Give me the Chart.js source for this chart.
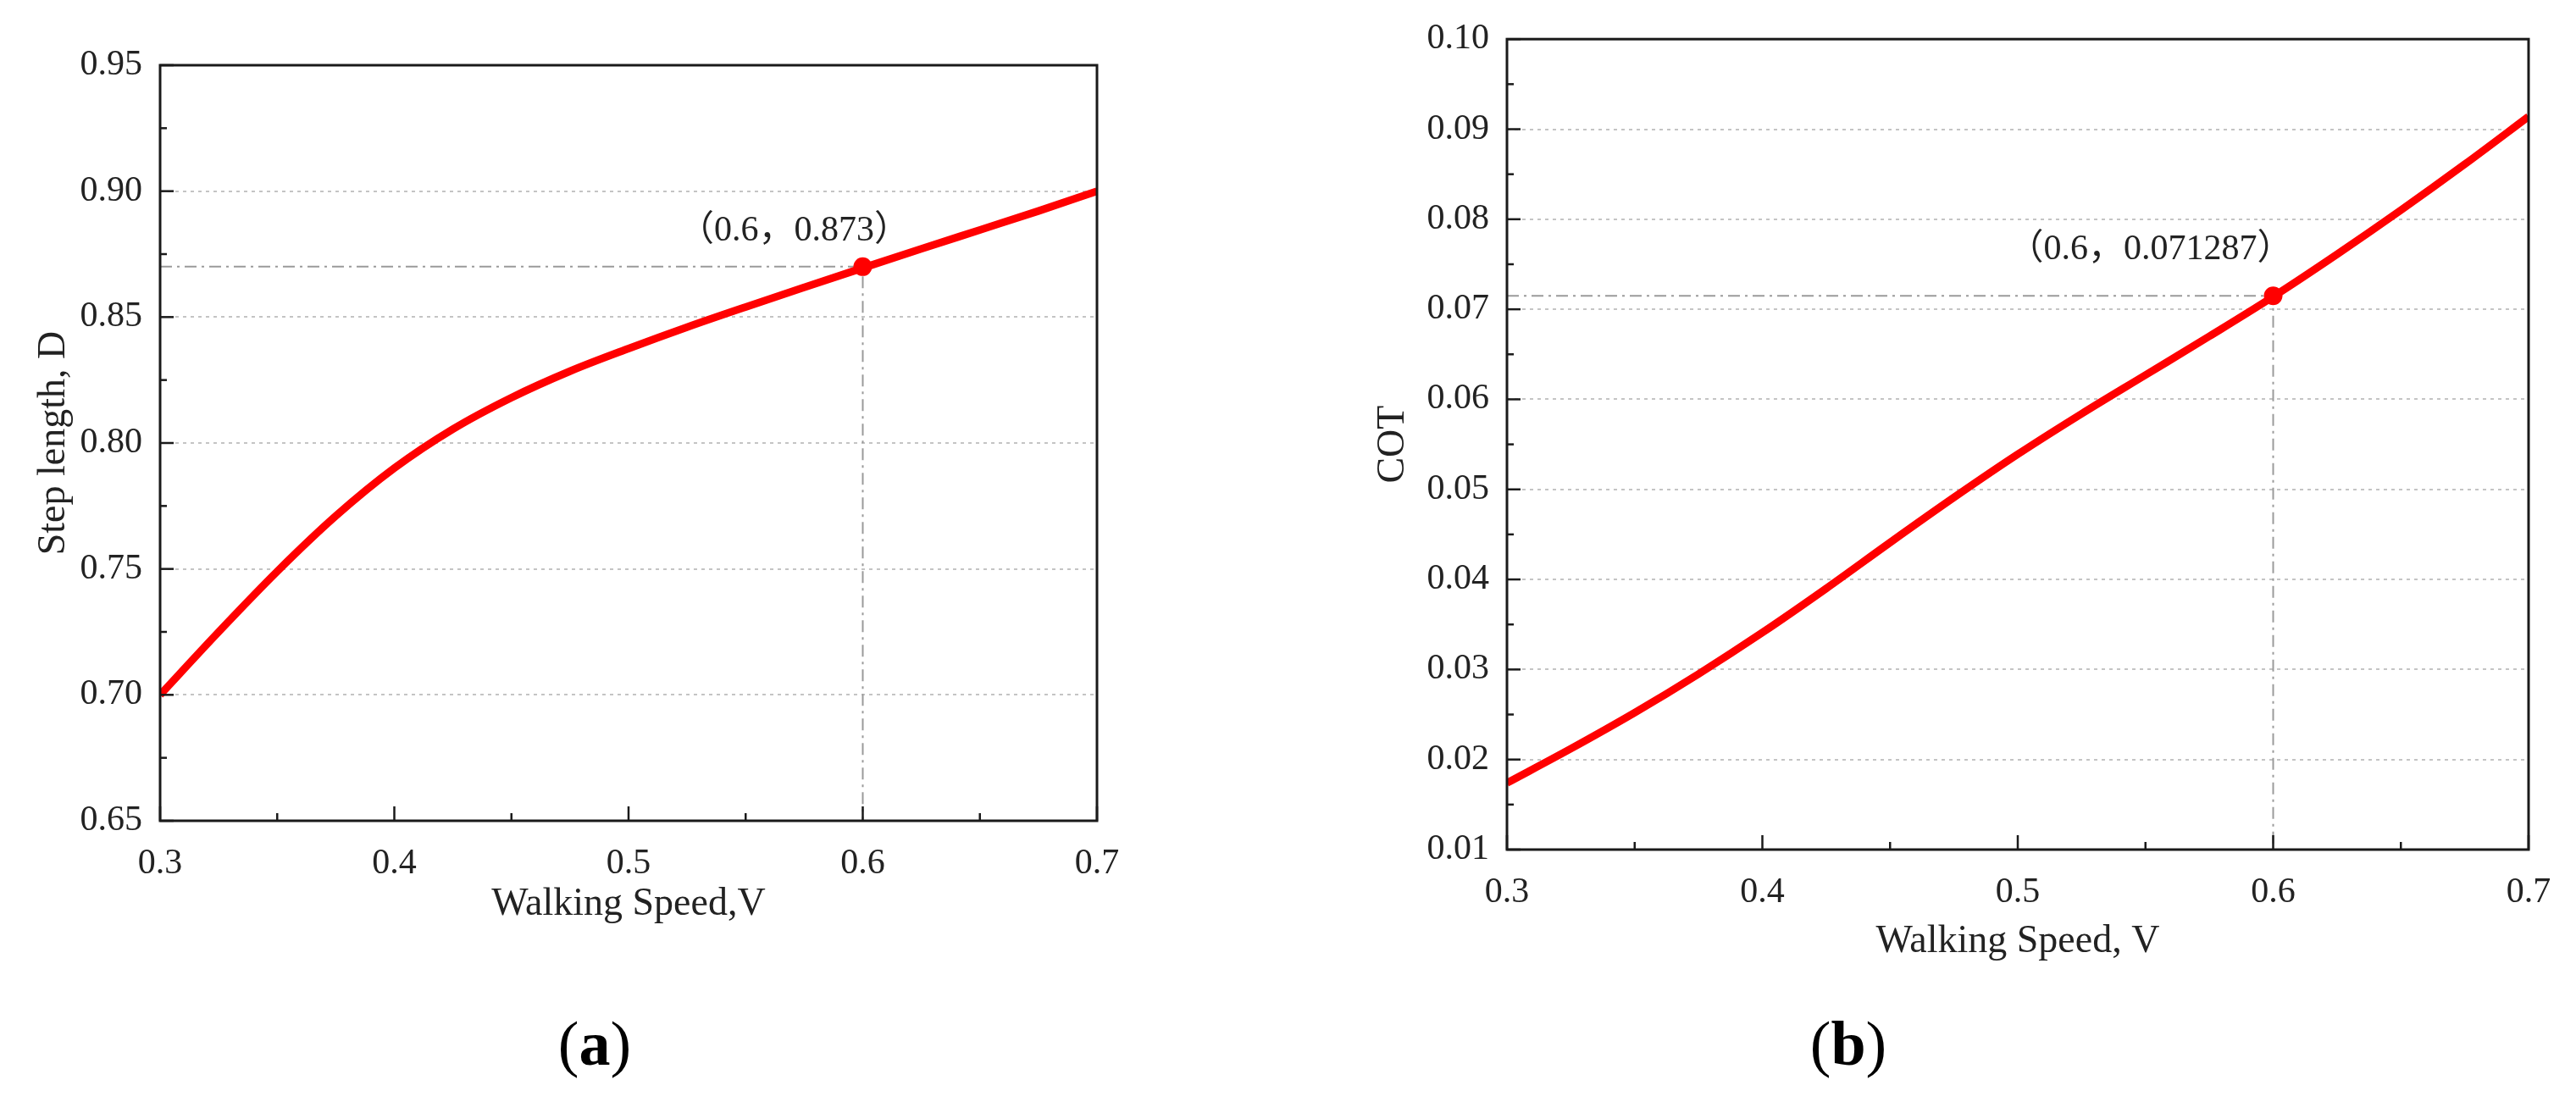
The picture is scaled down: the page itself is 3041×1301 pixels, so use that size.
<!DOCTYPE html>
<html>
<head>
<meta charset="utf-8">
<script src="https://cdn.jsdelivr.net/npm/chart.js@4.4.0/dist/chart.umd.min.js"></script>
<style>
  body { margin: 0; background: #fff; width: 3041px; height: 1301px; overflow: hidden; position: relative; }
  canvas { position: absolute; top: 0; }
  #chartA { left: 0; }
  #chartB { left: 1540px; }
  .cap { position: absolute; top: 1190px; width: 200px; text-align: center; font: 74px "Liberation Serif", serif; color: #000; }
  .cap b { font-weight: bold; }
</style>
</head>
<body>
<canvas id="chartA" width="1400" height="1160"></canvas>
<canvas id="chartB" width="1501" height="1160"></canvas>
<div class="cap" style="left:602px">(<b>a</b>)</div>
<div class="cap" style="left:2082px">(<b>b</b>)</div>

<script>
// --- DATA ---
const speed = [0.3, 0.325, 0.35, 0.375, 0.4, 0.425, 0.45, 0.475, 0.5, 0.525, 0.55, 0.575, 0.6, 0.625, 0.65, 0.675, 0.7];
const stepLength = [0.700, 0.725, 0.749, 0.771, 0.790, 0.8055, 0.818, 0.8285, 0.8375, 0.846, 0.854, 0.8618, 0.8695, 0.8771, 0.8846, 0.8921, 0.900];
const cot = [0.0174, 0.0212, 0.0252, 0.0295, 0.0341, 0.0390, 0.0441, 0.0491, 0.0539, 0.0584, 0.0627, 0.0670, 0.0714, 0.0761, 0.0810, 0.0861, 0.0914];

const markA = [0.6, 0.870];
const markB = [0.6, 0.0715];
const labelA = '（0.6，0.873）';
const labelB = '（0.6，0.071287）';

const xTicks = [0.3, 0.4, 0.5, 0.6, 0.7];
const yTicksA = [0.65, 0.70, 0.75, 0.80, 0.85, 0.90, 0.95];
const yTicksB = [0.01, 0.02, 0.03, 0.04, 0.05, 0.06, 0.07, 0.08, 0.09, 0.10];

const FONT = '"Liberation Serif", "Noto Sans CJK SC", serif';

// --- CADRE, TICKS VERS L'INTERIEUR, LABELS ---
const frameTicks = {
    id: 'frameTicks',
    afterDraw(chart, args, o) {
        const { ctx, chartArea: a, scales: { x, y } } = chart;
        ctx.save();
        ctx.strokeStyle = '#1a1a1a';
        ctx.lineWidth = 2.5;

        // ticks Y (majeurs + mineurs)
        const yv = y.ticks.map(t => t.value);
        yv.forEach((v, i) => {
            const py = y.getPixelForValue(v);
            ctx.beginPath(); ctx.moveTo(a.left, py); ctx.lineTo(a.left + 16, py); ctx.stroke();
            if (i < yv.length - 1) {
                const pm = y.getPixelForValue((v + yv[i + 1]) / 2);
                ctx.beginPath(); ctx.moveTo(a.left, pm); ctx.lineTo(a.left + 8, pm); ctx.stroke();
            }
        });
        // ticks X
        const xv = x.ticks.map(t => t.value);
        xv.forEach((v, i) => {
            const px = x.getPixelForValue(v);
            ctx.beginPath(); ctx.moveTo(px, a.bottom); ctx.lineTo(px, a.bottom - 17); ctx.stroke();
            if (i < xv.length - 1) {
                const pm = x.getPixelForValue((v + xv[i + 1]) / 2);
                ctx.beginPath(); ctx.moveTo(pm, a.bottom); ctx.lineTo(pm, a.bottom - 9); ctx.stroke();
            }
        });

        // cadre
        ctx.lineWidth = 3;
        ctx.strokeRect(a.left, a.top, a.right - a.left, a.bottom - a.top);

        // label du point
        ctx.fillStyle = '#222';
        ctx.font = '42px ' + FONT;
        ctx.textAlign = 'center';
        ctx.textBaseline = 'middle';
        ctx.fillText(o.label, x.getPixelForValue(o.mark[0]) + o.dx, y.getPixelForValue(o.mark[1]) + o.dy);

        // titre axe Y (centré sur la zone du graphe)
        ctx.font = '46px ' + FONT;
        ctx.translate(o.yTitleX, (a.top + a.bottom) / 2);
        ctx.rotate(-Math.PI / 2);
        ctx.fillText(o.yTitle, 0, 0);
        ctx.restore();
    }
};

function makeChart(id, values, mark, label, yTicks, opt) {
    const yMin = yTicks[0], yMax = yTicks[yTicks.length - 1];
    const step = +(yTicks[1] - yTicks[0]).toFixed(4);
    return new Chart(document.getElementById(id), {
        type: 'line',
        data: {
            datasets: [
                {
                    // lignes de repère (tiret-point)
                    data: [{ x: speed[0], y: mark[1] }, { x: mark[0], y: mark[1] }, { x: mark[0], y: yMin }],
                    borderColor: '#9a9a9a', borderWidth: 2, borderDash: [14, 6, 3, 6],
                    pointRadius: 0, tension: 0, order: 3
                },
                {
                    data: speed.map((s, i) => ({ x: s, y: values[i] })),
                    borderColor: '#ff0000', borderWidth: 9, pointRadius: 0,
                    cubicInterpolationMode: 'monotone', order: 2
                },
                {
                    data: [{ x: mark[0], y: mark[1] }],
                    showLine: false, pointRadius: 11, pointBackgroundColor: '#ff0000',
                    pointBorderWidth: 0, order: 1
                }
            ]
        },
        options: {
            responsive: false,
            animation: false,
            devicePixelRatio: 1,
            layout: { padding: opt.padding },
            plugins: {
                legend: { display: false },
                tooltip: { enabled: false },
                frameTicks: { mark: mark, label: label, dx: opt.dx, dy: opt.dy, yTitle: opt.yTitle, yTitleX: opt.yTitleX }
            },
            scales: {
                x: {
                    type: 'linear', min: xTicks[0], max: xTicks[xTicks.length - 1],
                    afterFit: s => { s.height = 140; },
                    ticks: { stepSize: 0.1, padding: 18, color: '#222', font: { family: FONT, size: 42 }, callback: v => v.toFixed(1) },
                    grid: { display: false },
                    border: { display: false },
                    title: { display: true, text: opt.xTitle, color: '#222', font: { family: FONT, size: 46 }, padding: { top: 0, bottom: opt.xTitlePad } }
                },
                y: {
                    min: yMin, max: yMax,
                    afterFit: s => { s.width = opt.yWidth; },
                    ticks: { stepSize: step, padding: 21, color: '#222', font: { family: FONT, size: 42 }, callback: v => v.toFixed(2) },
                    grid: { color: '#c4c4c4', lineWidth: 2, drawTicks: false },
                    border: { display: false, dash: [4, 5] }
                }
            }
        },
        plugins: [frameTicks]
    });
}

makeChart('chartA', stepLength, markA, labelA, yTicksA, {
    padding: { left: 0, top: 77, right: 105, bottom: 51 },
    yWidth: 189, xTitle: 'Walking Speed,V', xTitlePad: 13,
    yTitle: 'Step length, D', yTitleX: 64,
    dx: -81, dy: -42
});

makeChart('chartB', cot, markB, labelB, yTicksB, {
    padding: { left: 0, top: 31, right: 56, bottom: 17 },
    yWidth: 239, xTitle: 'Walking Speed, V', xTitlePad: 3,
    yTitle: 'COT', yTitleX: 105,
    dx: -145, dy: -54
});
</script>
</body>
</html>
